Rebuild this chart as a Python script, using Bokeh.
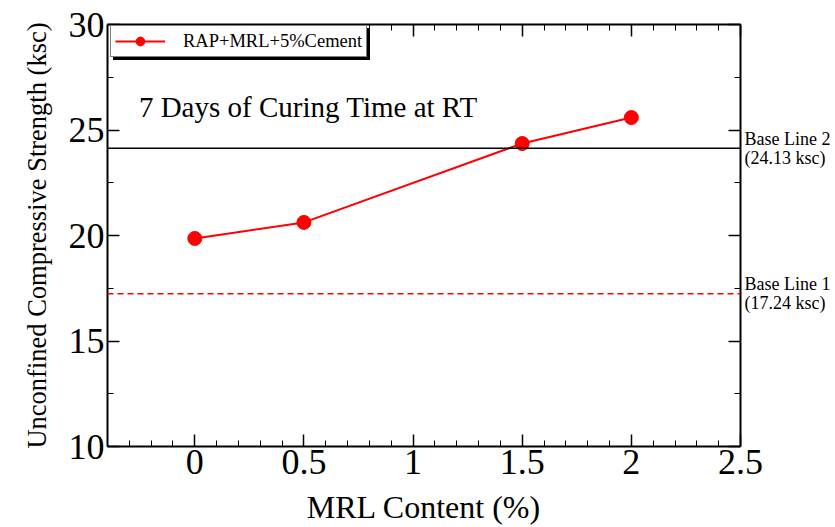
from bokeh.plotting import figure
from bokeh.models import (LinearAxis, Range1d, FixedTicker, Span, Label, Legend, LegendItem)
from bokeh.embed import file_html
from bokeh.resources import INLINE

# ---- data ----
mrl_content = [0, 0.5, 1.5, 2]
ucs_7day = [19.86, 20.62, 24.36, 25.59]
series_name = "RAP+MRL+5%Cement"
base_line_1 = 17.24
base_line_2 = 24.13
base_names = ["Base Line 1", "Base Line 2"]
x_major = [0, 0.5, 1, 1.5, 2, 2.5]
x_minor = [round(-0.3 + 0.1 * i, 1) for i in range(29)]
y_major = [10, 15, 20, 25, 30]
y_minor = [12.5, 17.5, 22.5, 27.5]
title_text = "7 Days of Curing Time at RT"
x_label = "MRL Content (%)"
y_label = "Unconfined Compressive Strength (ksc)"

FONT = "'Liberation Serif', 'Times New Roman', serif"

p = figure(width=835, height=541, output_backend="svg", toolbar_location=None,
           x_range=Range1d(-0.4, 2.5), y_range=Range1d(10, 30),
           min_border_left=107, min_border_right=95, min_border_top=24, min_border_bottom=95)
p.background_fill_color = "white"
p.border_fill_color = "white"
p.outline_line_color = None
p.grid.visible = False

def style_axis(ax, labels=True):
    ax.axis_line_width = 2
    ax.axis_line_color = "black"
    ax.major_tick_in = 12
    ax.major_tick_out = 0
    ax.minor_tick_in = 6
    ax.minor_tick_out = 0
    ax.major_tick_line_width = 1.5
    ax.minor_tick_line_width = 1
    ax.major_tick_line_color = "black"
    ax.minor_tick_line_color = "black"
    if labels:
        ax.major_label_text_font = FONT
        ax.major_label_text_font_size = "36px"
        ax.major_label_text_color = "black"
        ax.major_label_standoff = 3
        ax.axis_label_text_font = FONT
        ax.axis_label_text_font_style = "normal"
        ax.axis_label_text_color = "black"
    else:
        ax.major_label_text_font_size = "0px"
        ax.major_label_standoff = 0

xa = p.xaxis[0]
xa.ticker = FixedTicker(ticks=x_major, minor_ticks=x_minor)
style_axis(xa)
xa.axis_label = x_label
xa.axis_label_text_font_size = "32px"
xa.axis_label_standoff = 12

ya = p.yaxis[0]
ya.ticker = FixedTicker(ticks=y_major, minor_ticks=y_minor)
style_axis(ya)
ya.axis_label = y_label
ya.axis_label_text_font_size = "26.5px"
ya.axis_label_standoff = 14

top = LinearAxis(ticker=FixedTicker(ticks=x_major, minor_ticks=x_minor))
style_axis(top, labels=False)
p.add_layout(top, "above")
right = LinearAxis(ticker=FixedTicker(ticks=y_major, minor_ticks=y_minor))
style_axis(right, labels=False)
p.add_layout(right, "right")

# labels for the base lines, on an extra right axis
base_vals = [base_line_1, base_line_2]
base_axis = LinearAxis(ticker=FixedTicker(ticks=base_vals, minor_ticks=[]),
                       major_label_overrides={v: f"{n}\n({v:.2f} ksc)" for v, n in zip(base_vals, base_names)},
                       axis_line_color=None, major_tick_line_color=None, major_tick_in=0, major_tick_out=0,
                       major_label_text_font=FONT, major_label_text_font_size="18px",
                       major_label_text_color="black", major_label_standoff=4,
                       major_label_text_line_height=0.95)
p.add_layout(base_axis, "right")

# base lines
p.add_layout(Span(location=base_line_2, dimension="width", line_color="black", line_width=1.5))
p.add_layout(Span(location=base_line_1, dimension="width", line_color="red", line_width=1.5,
                  line_dash="6 4"))

ln = p.line(mrl_content, ucs_7day, line_color="red", line_width=2)
sc = p.scatter(mrl_content, ucs_7day, size=14, fill_color="red", line_color="red")

# legend shadow + legend
common = dict(margin=0, padding=4, spacing=0, label_text_font=FONT, label_text_font_size="18.5px",
              glyph_width=50, glyph_height=22, label_height=22, label_standoff=18)
shadow = Legend(items=[LegendItem(label=series_name, renderers=[ln, sc])],
                location=(6, 386), background_fill_color="black", background_fill_alpha=1,
                border_line_color="black", label_text_color="black", **common)
leg = Legend(items=[LegendItem(label=series_name, renderers=[ln, sc])],
             location=(3, 389), background_fill_color="white", background_fill_alpha=1,
             border_line_color="black", border_line_width=1.5, label_text_color="black",
             **common)
p.add_layout(shadow)
p.add_layout(leg)

p.add_layout(Label(x=-0.256, y=26.11, text=title_text, text_font=FONT,
                   text_font_size="29px", text_color="black", text_baseline="alphabetic"))

open("out.html", "w").write(file_html(p, INLINE))
